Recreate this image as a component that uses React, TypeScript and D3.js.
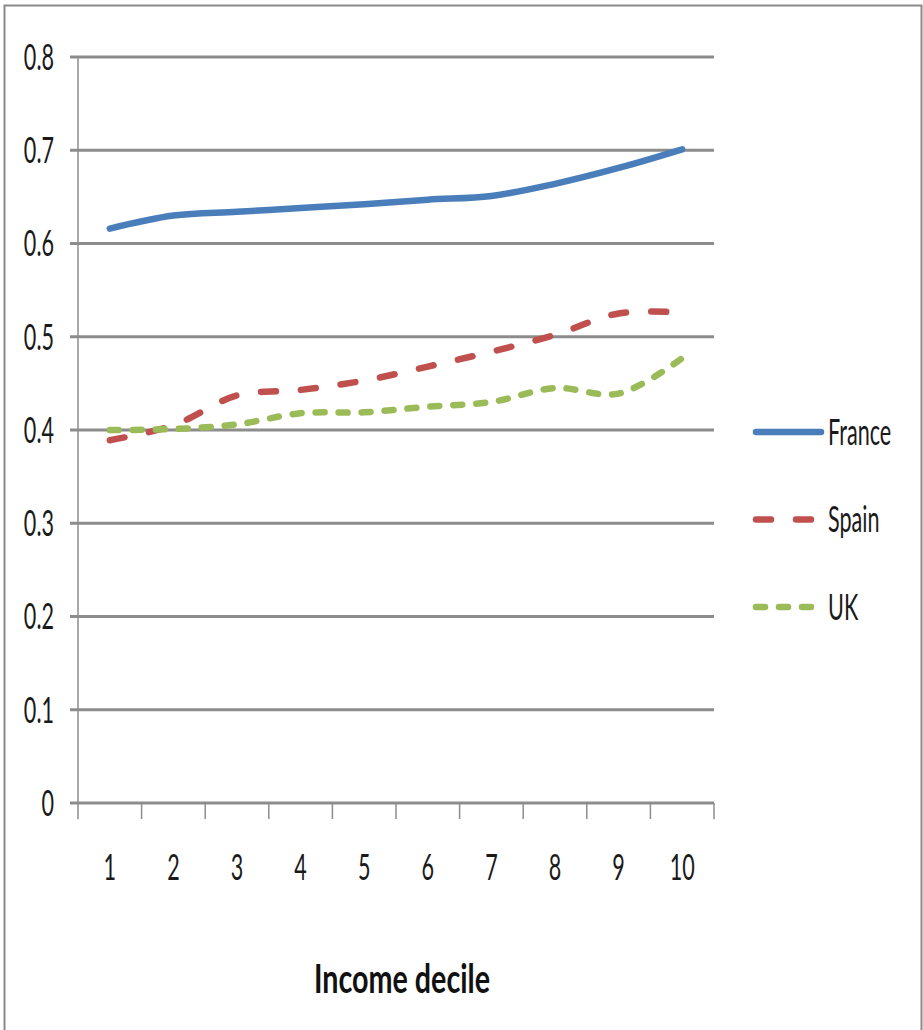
import React from "react";
import * as d3 from "d3";

// Income deciles along the x axis
const deciles = ["1", "2", "3", "4", "5", "6", "7", "8", "9", "10"];

// Share per decile, by country
const france = [0.616, 0.630, 0.634, 0.638, 0.642, 0.647, 0.651, 0.664, 0.681, 0.701];
const spain = [0.389, 0.405, 0.437, 0.443, 0.453, 0.468, 0.484, 0.502, 0.525, 0.526];
const uk = [0.400, 0.401, 0.406, 0.418, 0.419, 0.425, 0.430, 0.445, 0.439, 0.477];

const yTicks = [0, 0.1, 0.2, 0.3, 0.4, 0.5, 0.6, 0.7, 0.8];

const seriesNames = ["France", "Spain", "UK"];
const seriesValues = [france, spain, uk];

const W = 923;
const H = 1030;
const FONT = "Lato, 'Open Sans', sans-serif";
const SQUEEZE = 0.6;

const styles = [
  { color: "#4a7ebb", dash: undefined as string | undefined },
  { color: "#c0504d", dash: "15,25" },
  { color: "#9bbb59", dash: "9,14" },
];

export default function App() {
  const x = d3.scaleBand<string>().domain(deciles).range([78, 714]);
  const y = d3.scaleLinear().domain([0, 0.8]).range([803, 57]);
  const cx = (d: string) => (x(d) ?? 0) + x.bandwidth() / 2;

  const line = d3
    .line<number>()
    .x((_, i) => cx(deciles[i]))
    .y((v) => y(v))
    .curve(d3.curveCatmullRom.alpha(0.5));

  const boundaries = deciles.map((d) => x(d) ?? 0).concat([714]);
  const legendY = [432, 519.5, 607];
  const fs = 36;

  return (
    <svg
      width={W}
      height={H}
      style={{ position: "absolute", left: 0, top: 0, background: "#fff" }}
      fontFamily={FONT}
    >
      <rect x={4.5} y={5.5} width={917} height={H + 10} fill="#fff" stroke="#8a8a8a" strokeWidth={2} />

      {/* horizontal gridlines */}
      {yTicks.map((t) => (
        <line key={t} x1={70} x2={714} y1={y(t)} y2={y(t)} stroke="#8c8c8c" strokeWidth={3} />
      ))}

      {/* y axis */}
      <line x1={78} x2={78} y1={57} y2={803} stroke="#8c8c8c" strokeWidth={1.5} />

      {/* x axis ticks at category boundaries */}
      {boundaries.map((b, i) => (
        <line key={i} x1={b} x2={b} y1={803} y2={819} stroke="#8c8c8c" strokeWidth={1.5} />
      ))}

      {/* y tick labels */}
      {yTicks.map((t) => (
        <text
          key={t}
          transform={`translate(54,${y(t) + fs * 0.36}) scale(${SQUEEZE},1)`}
          textAnchor="end"
          fontSize={fs}
          fill="#1a1a1a"
        >
          {t === 0 ? "0" : t.toFixed(1)}
        </text>
      ))}

      {/* x tick labels */}
      {deciles.map((d) => (
        <text
          key={d}
          transform={`translate(${cx(d)},${867 + fs * 0.36}) scale(${SQUEEZE},1)`}
          textAnchor="middle"
          fontSize={fs}
          fill="#1a1a1a"
        >
          {d}
        </text>
      ))}

      {/* axis title */}
      <text
        transform={`translate(402,993) scale(0.7,1)`}
        textAnchor="middle"
        fontSize={41}
        fontWeight="bold"
        fill="#111"
      >
        Income decile
      </text>

      {/* series */}
      {seriesValues.map((vals, i) => (
        <path
          key={seriesNames[i]}
          d={line(vals) ?? ""}
          fill="none"
          stroke={styles[i].color}
          strokeWidth={6.5}
          strokeDasharray={styles[i].dash}
          strokeLinecap="round"
          strokeLinejoin="round"
        />
      ))}

      {/* legend */}
      {seriesNames.map((name, i) => (
        <g key={name}>
          <line
            x1={756}
            x2={821}
            y1={legendY[i]}
            y2={legendY[i]}
            stroke={styles[i].color}
            strokeWidth={6.5}
            strokeDasharray={styles[i].dash}
            strokeLinecap="round"
          />
          <text
            transform={`translate(828,${legendY[i] + fs * 0.36}) scale(${SQUEEZE},1)`}
            fontSize={fs}
            fill="#1a1a1a"
          >
            {name}
          </text>
        </g>
      ))}
    </svg>
  );
}
